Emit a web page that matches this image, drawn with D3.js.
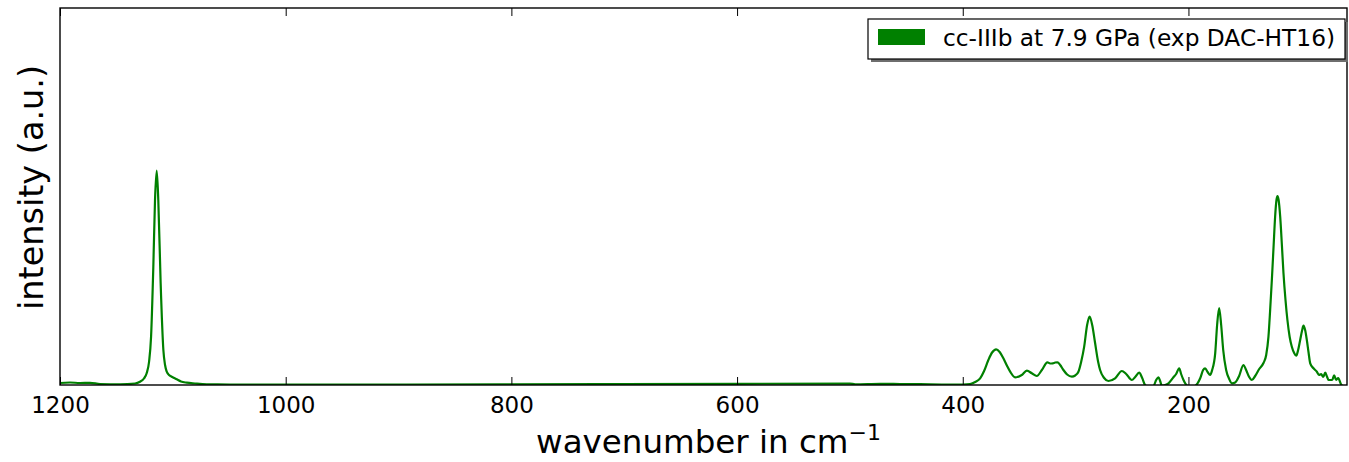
<!DOCTYPE html>
<html>
<head>
<meta charset="utf-8">
<script src="https://cdn.jsdelivr.net/npm/d3@7"></script>
<style>
  html, body { margin: 0; padding: 0; background: #fff; }
  svg { display: block; font-family: "DejaVu Sans", sans-serif; }
</style>
</head>
<body>
<svg id="chart" width="1349" height="462"></svg>
<script>
// ---- data ----
const seriesName = "cc-IIIb at 7.9 GPa (exp DAC-HT16)";
const xTicks = [1200, 1000, 800, 600, 400, 200];
const wavenumber = [
  1200, 1191.1, 1182.3, 1173.4, 1164.5, 1146.8, 1133.5, 1129.1, 1125.6, 1123.2,
  1121.1, 1119.3, 1117.3, 1115.8, 1114.3, 1112.9, 1110.8, 1108.4, 1106.9, 1105.4,
  1103.4, 1101.0, 1096.6, 1092.8, 1087.7, 1080.4, 1070.0, 1049.3, 987.3, 810.0,
  721.4, 600, 500, 495.4, 473.2, 455.5, 437.8, 411.2, 399.7, 393.5,
  389.0, 384.6, 381.1, 377.3, 374.0, 370.4, 367.3, 364.0, 360.7, 358.0,
  353.6, 347.7, 343.2, 338.8, 334.4, 329.9, 325.0, 322.6, 320.2, 318.1,
  316.1, 313.7, 310.8, 307.5, 303.3, 300.4, 297.5, 295.1, 292.4, 289.8,
  287.6, 285.3, 282.7, 280.0, 278.3, 274.7, 270.9, 265.0, 259.0, 255.2,
  250.2, 247.2, 243.7, 241.0, 238.4, 234.8, 231.0, 228.6, 226.6, 225.1,
  223.6, 220.6, 217.7, 213.3, 210.9, 208.2, 206.5, 204.4, 200.9, 197.6,
  194.1, 189.6, 187.0, 185.2, 183.0, 180.8, 179.0, 176.3, 174.6, 172.8,
  171.0, 169.2, 166.6, 163.9, 161.5, 158.6, 155.1, 151.3, 148.9, 146.2,
  143.8, 140.9, 137.3, 133.5, 131.1, 129.1, 127.6, 126.1, 124.5, 123.2,
  122.0, 121.1, 120.1, 118.7, 117.2, 115.8, 114.0, 112.3, 110.3, 108.4,
  106.3, 104.5, 102.8, 101.0, 99.2, 98.1, 96.6, 95.1, 93.5, 92.1,
  89.2, 86.2, 84.2, 82.4, 80.6, 78.8, 77.1, 75.9, 74.4, 72.6,
  70.9, 69.1, 67.3, 64.9, 62.9, 59.4
];
const intensity = [
  2, 2.5, 2, 2.2, 1, 0.7, 1.5, 3.3, 6.5, 11.7,
  23, 48.3, 118.3, 185, 214.3, 185, 101.7, 35, 20, 13.3,
  10, 8.3, 5.7, 3.5, 2.3, 1.5, 0.7, 0.5, 0.4, 0.6,
  0.8, 1.2, 1.4, 0.7, 1.2, 1, 0.8, 0.5, 0.5, 1,
  3, 6.7, 14, 25, 32.5, 35.7, 33, 26.7, 19, 13.3,
  7.7, 10, 14.3, 11.7, 9, 15, 22.7, 21.5, 21.7, 22.5,
  22.7, 20, 15, 10.5, 8.3, 9.5, 13.3, 23, 38.3, 60,
  68.5, 60, 41.7, 23, 15, 7, 4, 6.7, 14, 11,
  5, 8, 12.3, 7, 0, -2, -1, 5, 7.7, 4,
  -0.7, 0, 1.7, 7.7, 11, 16.7, 11, 5, -1, -2,
  -1, 6.7, 15, 16.7, 13, 10, 15, 31.7, 60, 77,
  60, 35, 15, 6, 1.7, 2.5, 9, 20, 15, 8,
  5, 9, 16, 22, 30, 48.3, 75, 105, 140, 168.3,
  185, 189, 185, 168.3, 140, 112, 85, 65, 48, 38.3,
  32, 29.3, 35, 45, 55, 59.3, 55, 45, 32, 21.7,
  16.7, 13.3, 10, 11, 8, 12.3, 8, 5, 5, 5,
  9.7, 5, 7, 1, -1, -1
];

// ---- layout ----
const W = 1349, H = 462;
const m = { left: 60, right: 2, top: 8, bottom: 77 };
const pw = W - m.left - m.right, ph = H - m.top - m.bottom;

const svg = d3.select("#chart");
const x = d3.scaleLinear().domain([1200, 59.5]).range([m.left, m.left + pw]);
const y = d3.scaleLinear().domain([0, 377]).range([m.top + ph, m.top]);

svg.append("defs").append("clipPath").attr("id", "clip")
  .append("rect").attr("x", m.left).attr("y", m.top).attr("width", pw).attr("height", ph);

const pts = wavenumber.map((w, i) => [w, intensity[i]]);
const line = d3.line().x(d => x(d[0])).y(d => y(d[1])).curve(d3.curveMonotoneX);

svg.append("path").datum(pts)
  .attr("clip-path", "url(#clip)")
  .attr("d", line)
  .attr("fill", "none")
  .attr("stroke", "#008000")
  .attr("stroke-width", 2.2)
  .attr("stroke-linejoin", "round");

// axes (ticks inward, top and bottom)
const xb = d3.axisBottom(x).tickValues(xTicks).tickFormat(d3.format("d"))
  .tickSizeInner(-8).tickSizeOuter(0).tickPadding(12);
const gx = svg.append("g").attr("transform", `translate(0,${m.top + ph})`).call(xb);
gx.select(".domain").remove();
gx.selectAll("line").attr("stroke", "#000").attr("stroke-width", 1);
gx.selectAll("text").attr("font-size", 23).attr("fill", "#000")
  .attr("font-family", "DejaVu Sans, sans-serif").attr("dy", "0.71em");

const xt = d3.axisTop(x).tickValues(xTicks).tickSizeInner(-8).tickSizeOuter(0).tickFormat("");
const gxt = svg.append("g").attr("transform", `translate(0,${m.top})`).call(xt);
gxt.select(".domain").remove();
gxt.selectAll("line").attr("stroke", "#000").attr("stroke-width", 1);

// frame
svg.append("rect").attr("x", m.left).attr("y", m.top).attr("width", pw).attr("height", ph)
  .attr("fill", "none").attr("stroke", "#000").attr("stroke-width", 1.4);

// axis labels
svg.append("text")
  .attr("x", m.left + pw / 2 + 5).attr("y", 453)
  .attr("text-anchor", "middle").attr("font-size", 32.5).attr("fill", "#000")
  .text("wavenumber in cm")
  .append("tspan").attr("dy", -13).attr("font-size", 22).text("\u22121");

svg.append("text")
  .attr("transform", `translate(43,${m.top + ph / 2 - 9}) rotate(-90)`)
  .attr("text-anchor", "middle").attr("font-size", 33.5).attr("fill", "#000")
  .text("intensity (a.u.)");

// legend
const lg = svg.append("g");
const lx = 868, ly = 19, lw = 477, lh = 40;
lg.append("rect").attr("x", lx + 3).attr("y", ly + 3).attr("width", lw).attr("height", lh)
  .attr("fill", "#6e6e6e");
lg.append("rect").attr("x", lx).attr("y", ly).attr("width", lw).attr("height", lh)
  .attr("fill", "#fff").attr("stroke", "#000").attr("stroke-width", 1.2);
lg.append("rect").attr("x", 878).attr("y", 29).attr("width", 47).attr("height", 16)
  .attr("fill", "#008000");
lg.append("text").attr("x", 943).attr("y", 46).attr("font-size", 23.3).attr("fill", "#000")
  .text(seriesName);
</script>
</body>
</html>
